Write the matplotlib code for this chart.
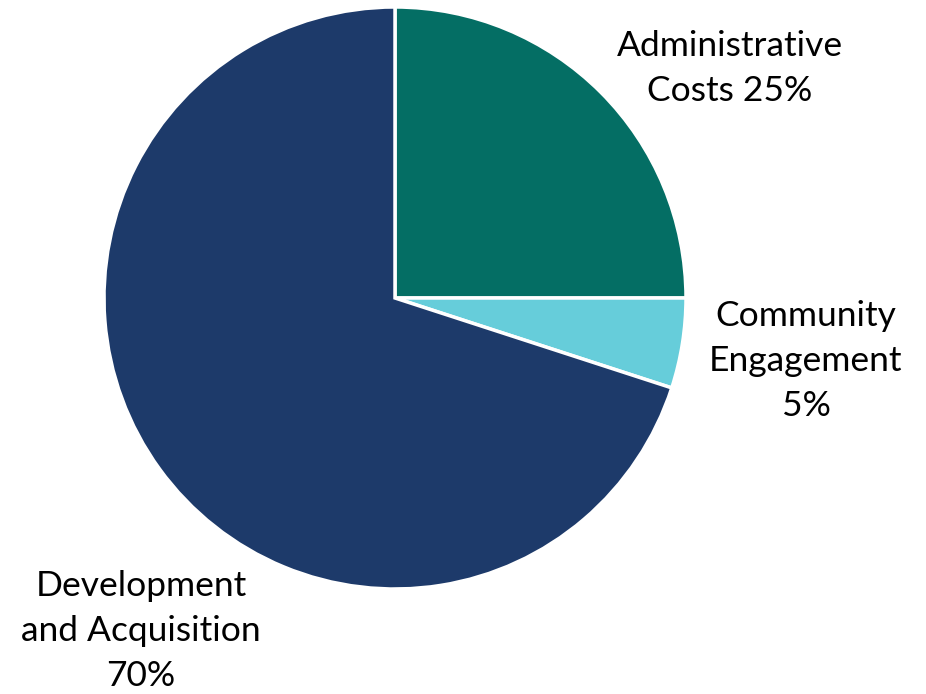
import matplotlib.pyplot as plt

labels = ['Administrative\nCosts 25%', 'Community\nEngagement\n5%', 'Development\nand Acquisition\n70%']
shares = [25, 5, 70]
colors = ['#046E64', '#66CDDA', '#1D3A6A']

plt.rcParams['font.family'] = ['Lato', 'DejaVu Sans']

W, H = 926, 694
fig = plt.figure(figsize=(W / 100, H / 100), dpi=100)
ax = fig.add_axes([0, 0, 1, 1])

ax.pie(shares, colors=colors, startangle=90, counterclock=False,
       center=(395, H - 298), radius=291,
       wedgeprops=dict(edgecolor='white', linewidth=2.5))
# pie resets the limits, so set them afterwards (pixel units, y up)
ax.set_xlim(0, W)
ax.set_ylim(0, H)
ax.set_aspect('equal')
ax.axis('off')

label_pos = [(730, 68), (806, 361), (141, 631)]
for txt, (x, y) in zip(labels, label_pos):
    ax.text(x, H - y, txt, ha='center', va='center', fontsize=25.5,
            linespacing=1.5, color='black')

fig.savefig('out.png', dpi=100)
